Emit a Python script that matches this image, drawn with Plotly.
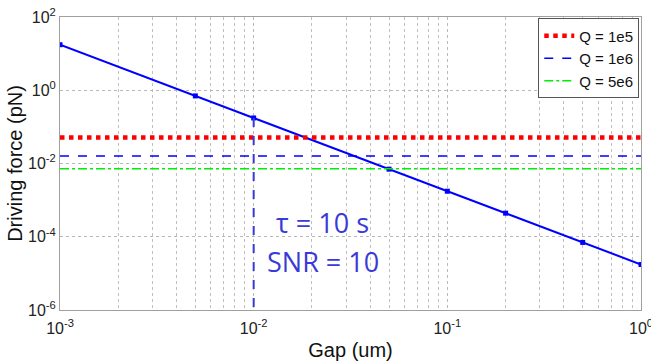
import plotly.graph_objects as go

gap = [0.001, 0.005, 0.01, 0.05, 0.1, 0.2, 0.5, 1.0]
force = [17.5, 0.70, 0.175, 0.0070, 0.00175, 0.00044, 0.00007, 0.0000175]
q_labels = ["Q = 1e5", "Q = 1e6", "Q = 5e6"]
q_levels = [0.051, 0.016, 0.0072]
x_span = [0.001, 1.0]
marker_x = [0.01, 0.01]
marker_y = [0.175, 1e-6]
x_tickvals = [0.001, 0.01, 0.1, 1]
x_ticktext = ["10<sup>-3</sup>", "10<sup>-2</sup>", "10<sup>-1</sup>", "10<sup>0</sup>"]
y_tickvals = [1e-6, 1e-4, 1e-2, 1, 100]
y_ticktext = ["10<sup>-6</sup>", "10<sup>-4</sup>", "10<sup>-2</sup>", "10<sup>0</sup>", "10<sup>2</sup>"]

fig = go.Figure()
fig.add_trace(go.Scatter(x=gap, y=force, mode="lines+markers",
                         line=dict(color="#0000ff", width=2),
                         marker=dict(symbol="square", size=5, color="#0000ff"),
                         showlegend=False))
styles = [dict(color="#ff0000", width=4.5, dash="dot"),
          dict(color="#0000ff", width=1.6, dash="dash"),
          dict(color="#00ee00", width=1.4, dash="dashdot")]
for lab, lv, st in zip(q_labels, q_levels, styles):
    fig.add_trace(go.Scatter(x=x_span, y=[lv, lv], mode="lines", name=lab, line=st))
fig.add_trace(go.Scatter(x=marker_x, y=marker_y, mode="lines",
                         line=dict(color="#3a3ad8", width=2, dash="dash"),
                         showlegend=False))

grid = dict(showgrid=True, gridcolor="#b8b8b8", griddash="dot", gridwidth=1)
fig.update_xaxes(type="log", range=[-3, 0], tickvals=x_tickvals, ticktext=x_ticktext,
                 showline=True, linecolor="#a0a0a0", mirror=True, automargin=False,
                 ticks="outside", ticklen=4, tickcolor="rgba(0,0,0,0)",
                 ticklabeloverflow="allow",
                 minor=dict(showgrid=True, gridcolor="#c0c0c0", griddash="dot", dtick="D1"),
                 tickfont=dict(family="Arial", size=16, color="#222"),
                 title=dict(text="Gap (um)", font=dict(family="Arial", size=20, color="#111"), standoff=6),
                 zeroline=False, **grid)
fig.update_yaxes(type="log", range=[-6, 2], tickvals=y_tickvals, ticktext=y_ticktext,
                 showline=True, linecolor="#a0a0a0", mirror=True, ticks="", automargin=False,
                 tickfont=dict(family="Arial", size=16, color="#222"),
                 title=dict(text="Driving force (pN)", font=dict(family="Arial", size=20, color="#111"), standoff=0),
                 zeroline=False, **grid)

fig.add_annotation(x=0.368, y=0.300, xref="paper", yref="paper", text="τ = 10 s",
                   showarrow=False, xanchor="left", yanchor="middle",
                   font=dict(family="Open Sans", size=27, color="#3a3ad8"))
fig.add_annotation(x=0.352, y=0.165, xref="paper", yref="paper", text="SNR = 10",
                   showarrow=False, xanchor="left", yanchor="middle",
                   font=dict(family="Open Sans", size=27, color="#3a3ad8"))

fig.update_layout(width=651, height=361, margin=dict(l=60, r=10, t=17, b=51, autoexpand=False),
                  plot_bgcolor="white", paper_bgcolor="white",
                  legend=dict(x=0.997, y=0.995, xanchor="right", yanchor="top",
                              bordercolor="#555", borderwidth=1, bgcolor="white",
                              font=dict(family="Arial", size=15, color="#111"),
                              tracegroupgap=0, itemwidth=30))
fig.write_html("out.html")
